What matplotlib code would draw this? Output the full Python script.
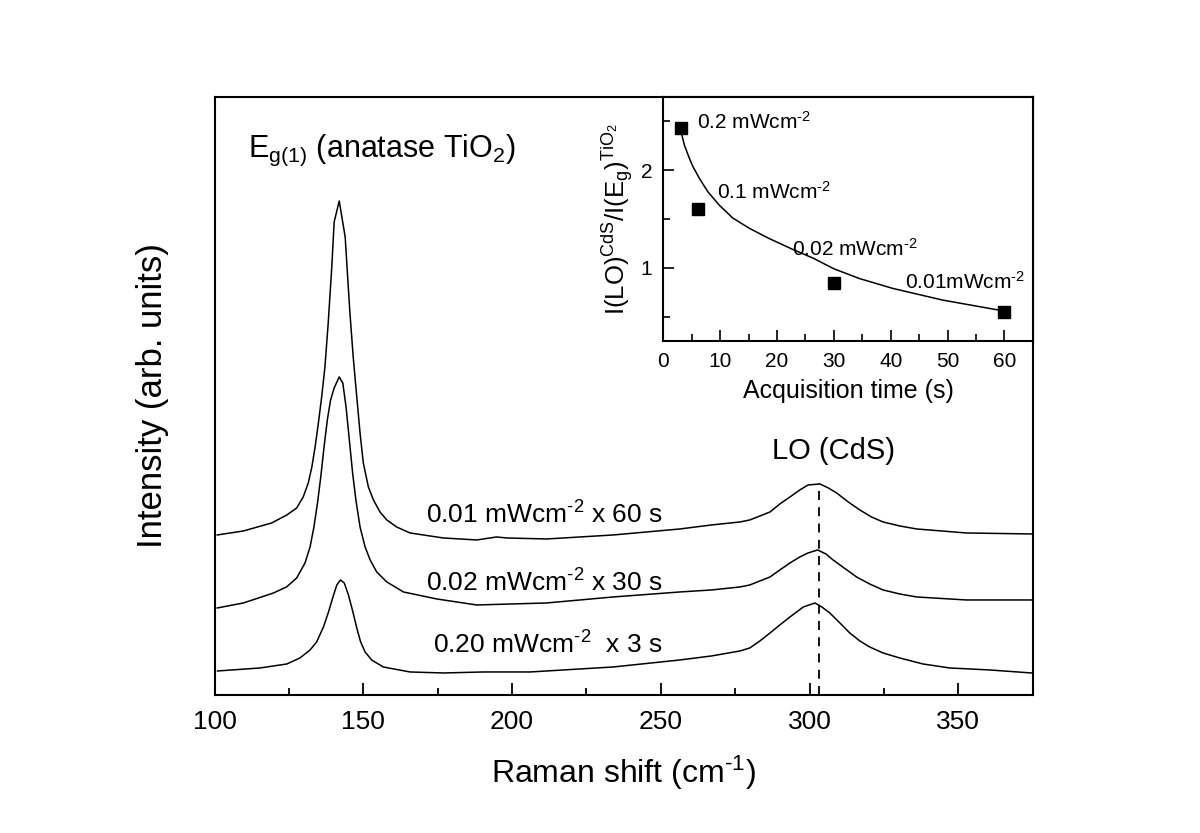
import matplotlib
matplotlib.use("Agg")
import matplotlib.pyplot as plt
from matplotlib.ticker import MultipleLocator

plt.rcParams['font.family'] = ['Liberation Sans', 'DejaVu Sans']
plt.rcParams['mathtext.default'] = 'regular'

# Raman spectra (intensity in arbitrary units, offset per trace)
x_top = [100.9, 109.7, 119.2, 124.3, 127.6, 129.8, 131.5, 132.7, 133.8, 134.9, 136.0, 137.1,
         138.2, 139.4, 140.2, 141.9, 143.9, 144.8, 145.5, 146.6, 147.8, 148.9, 150.0, 151.7,
         153.4, 155.6, 157.9, 161.2, 165.7, 176.9, 188.1, 194.8, 198.2, 211.6, 234.0, 256.4,
         267.0, 276.6, 279.9, 283.3, 286.7, 290.0, 293.4, 296.7, 299.5, 303.5, 306.3, 309.1,
         313.0, 316.9, 320.8, 324.7, 330.3, 336.0, 352.7, 374.6]
h_top = [160, 164, 172, 180, 187, 198, 212, 228, 248, 272, 298, 328,
         372, 428, 473, 494, 458, 415, 382, 338, 298, 262, 232, 208,
         195, 183, 175, 168, 162, 157, 155, 158, 157, 156, 160, 166,
         170, 173, 175, 179, 183, 191, 198, 205, 210, 211, 207, 202,
         193, 185, 178, 173, 169, 166, 162, 161]

x_mid = [100.9, 109.7, 119.8, 124.2, 127.6, 130.4, 132.1, 133.4, 134.6, 135.7, 136.8, 137.9,
         139.0, 140.2, 141.9, 143.1, 144.2, 145.3, 146.4, 147.5, 148.9, 150.6, 152.3, 154.5,
         157.9, 163.5, 174.7, 188.1, 211.6, 234.0, 256.4, 267.0, 276.6, 279.9, 283.3, 286.7,
         290.0, 293.4, 296.7, 299.5, 302.7, 305.5, 307.9, 311.6, 315.8, 320.2, 324.7, 330.3,
         336.0, 352.7, 374.6]
h_mid = [87, 92, 102, 108, 117, 132, 148, 168, 192, 218, 248, 275,
         295, 307, 318, 312, 288, 255, 222, 195, 168, 148, 135, 123,
         113, 103, 96, 90, 92, 98, 103, 105, 108, 110, 114, 118,
         125, 132, 138, 142, 145, 141, 135, 127, 118, 111, 105, 101,
         98, 95, 95]

x_bot = [101.0, 115.3, 124.3, 128.7, 132.1, 134.3, 136.6, 138.3, 140.0, 141.1, 142.3, 143.6,
         145.0, 146.5, 147.8, 149.1, 150.6, 152.8, 156.7, 165.7, 176.9, 190.3, 206.0, 234.0,
         256.4, 267.0, 276.6, 279.9, 283.3, 286.7, 290.0, 293.4, 297.9, 301.8, 304.1, 306.8,
         310.2, 313.5, 316.9, 320.2, 324.7, 330.3, 338.1, 347.1, 360.6, 374.6]
h_bot = [24, 27, 31, 37, 45, 53, 68, 83, 100, 110, 115, 112,
         100, 83, 67, 53, 43, 35, 28, 23, 22, 23, 23, 28,
         35, 39, 44, 47, 54, 62, 70, 78, 88, 92, 88, 82,
         72, 62, 54, 48, 42, 37, 31, 27, 25, 22]

lo_position = 303.1

# inset: intensity ratio vs acquisition time
acq_time = [3, 6, 30, 60]
ratio = [2.43, 1.60, 0.84, 0.55]
hy = '\u2010'
power_labels = ['0.2 mWcm$^{%s2}$' % hy, '0.1 mWcm$^{%s2}$' % hy,
                '0.02 mWcm$^{%s2}$' % hy, '0.01mWcm$^{%s2}$' % hy]

fit_x = [3.11, 3.69, 4.57, 5.16, 6.33, 7.80, 9.85, 12.2, 15.1, 18.6, 22.7, 26.3,
         30.0, 34.5, 40.3, 49.1, 59.7]
fit_y = [2.39, 2.255, 2.12, 2.04, 1.915, 1.78, 1.64, 1.51, 1.405, 1.30, 1.19, 1.10,
         0.99, 0.89, 0.79, 0.67, 0.56]

fig = plt.figure(figsize=(12, 8.33), dpi=100)
ax = fig.add_axes([0.1788, 0.1657, 0.6818, 0.7179])

ax.plot(x_top, h_top, color='black', lw=1.1)
ax.plot(x_mid, h_mid, color='black', lw=1.1)
ax.plot(x_bot, h_bot, color='black', lw=1.1)
ax.plot([lo_position, lo_position], [0, 212], color='black', lw=1.3, ls=(0, (5, 4)))

ax.set_xlim(100, 375)
ax.set_ylim(0, 598)
ax.xaxis.set_major_locator(MultipleLocator(50))
ax.xaxis.set_minor_locator(MultipleLocator(25))
ax.tick_params(axis='x', which='major', direction='in', length=9, width=1.3, labelsize=19, pad=11)
ax.tick_params(axis='x', which='minor', direction='in', length=5, width=1.3)
ax.set_yticks([])
for s in ax.spines.values():
    s.set_linewidth(1.5)

ax.set_xlabel('Raman shift (cm$^{%s1}$)' % hy, fontsize=23, labelpad=14)
ax.set_ylabel('Intensity (arb. units)', fontsize=25, labelpad=33)

ax.text(111.3, 545, 'E$_{g(1)}$ (anatase TiO$_2$)', fontsize=22, va='center', ha='left')
ax.text(308.2, 244, 'LO (CdS)', fontsize=21, va='center', ha='center')
ax.text(250.6, 180, '0.01 mWcm$^{%s2}$ x 60 s' % hy, fontsize=19, va='center', ha='right')
ax.text(250.6, 112, '0.02 mWcm$^{%s2}$ x 30 s' % hy, fontsize=19, va='center', ha='right')
ax.text(250.6, 50, '0.20 mWcm$^{%s2}$  x 3 s' % hy, fontsize=19, va='center', ha='right')

# inset
ins = fig.add_axes([0.5529, 0.5906, 0.3077, 0.2930])
ins.plot(fit_x, fit_y, color='black', lw=1.1)
ins.plot(acq_time, ratio, 's', color='black', markersize=8)
label_pos = [(5.9, 2.49), (9.4, 1.78), (22.6, 1.19), (42.6, 0.86)]
for (lx, ly), lab in zip(label_pos, power_labels):
    ins.text(lx, ly, lab, fontsize=15, va='center', ha='left')

ins.set_xlim(0, 65)
ins.set_ylim(0.25, 2.75)
ins.xaxis.set_major_locator(MultipleLocator(10))
ins.xaxis.set_minor_locator(MultipleLocator(5))
ins.yaxis.set_major_locator(MultipleLocator(1))
ins.yaxis.set_minor_locator(MultipleLocator(0.5))
ins.tick_params(which='major', direction='in', length=8, width=1.2, labelsize=15, pad=8)
ins.tick_params(which='minor', direction='in', length=5, width=1.2)
for s in ins.spines.values():
    s.set_linewidth(1.5)
ins.set_xlabel('Acquisition time (s)', fontsize=18, labelpad=6)
ins.set_ylabel('I(LO)$^{CdS}$/I(E$_g$)$^{TiO_2}$', fontsize=18.5, labelpad=4)

fig.savefig('out.png', dpi=100)
